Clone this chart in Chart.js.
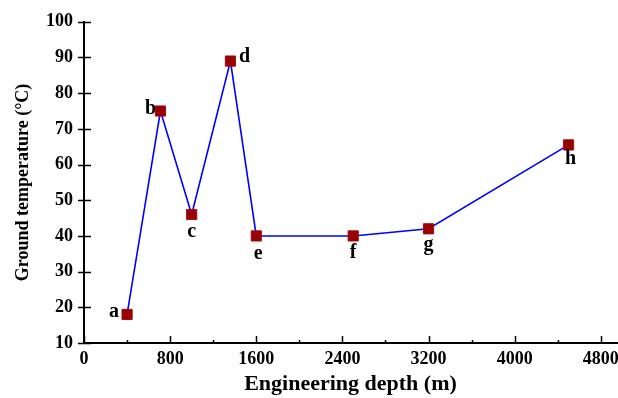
<!DOCTYPE html>
<html>
<head>
<meta charset="utf-8">
<script src="https://cdn.jsdelivr.net/npm/chart.js@4"></script>
<style>
  html, body { margin: 0; padding: 0; background: #fff; }
  #chart { display: block; }
</style>
</head>
<body>
<canvas id="chart" width="618" height="398"></canvas>
<script>
// Ground temperature vs engineering depth
const depths = [400, 710, 1000, 1360, 1600, 2500, 3200, 4500];
const temps = [18, 75, 46, 89, 40, 40, 42, 65.5];
const pointNames = ["a", "b", "c", "d", "e", "f", "g", "h"];
const xMajorTicks = [0, 800, 1600, 2400, 3200, 4000, 4800];
const yTicks = [10, 20, 30, 40, 50, 60, 70, 80, 90, 100];

const SERIF = "'Liberation Serif', 'Times New Roman', serif";

// where each letter sits relative to its marker (px)
const labelOffsets = {
  a: [-13, -3], b: [-10, -2], c: [0, 17], d: [14, -4],
  e: [2, 18], f: [0, 17], g: [0, 16], h: [2, 14]
};

// tick marks: x ticks point inward (major + minor), y ticks cross the axis
const tickMarks = {
  id: "tickMarks",
  afterDraw(chart) {
    const { ctx, scales: { x, y }, chartArea } = chart;
    ctx.save();
    ctx.strokeStyle = "#000";
    ctx.lineWidth = 1.5;
    ctx.beginPath();
    for (let v = 0; v <= 4800; v += 400) {
      const px = Math.round(x.getPixelForValue(v)) + 0.5;
      const len = v % 800 === 0 ? 7 : 3;
      ctx.moveTo(px, chartArea.bottom);
      ctx.lineTo(px, chartArea.bottom - len);
    }
    for (const v of yTicks) {
      const py = Math.round(y.getPixelForValue(v)) + 0.5;
      ctx.moveTo(chartArea.left - 6, py);
      ctx.lineTo(chartArea.left + 7, py);
    }
    ctx.stroke();
    ctx.restore();
  }
};

const pointLabels = {
  id: "pointLabels",
  afterDatasetsDraw(chart) {
    const { ctx } = chart;
    const meta = chart.getDatasetMeta(0);
    ctx.save();
    ctx.font = "bold 20px " + SERIF;
    ctx.fillStyle = "#000";
    ctx.textAlign = "center";
    ctx.textBaseline = "middle";
    meta.data.forEach((pt, i) => {
      const name = pointNames[i];
      const [dx, dy] = labelOffsets[name];
      ctx.fillText(name, pt.x + dx, pt.y + dy);
    });
    ctx.restore();
  }
};

new Chart(document.getElementById("chart"), {
  type: "line",
  data: {
    datasets: [{
      data: depths.map((d, i) => ({ x: d, y: temps[i] })),
      borderColor: "#0000ff",
      borderWidth: 1.6,
      pointStyle: "rect",
      pointRadius: 7.2,
      pointBackgroundColor: "#990000",
      pointBorderColor: "#a01010",
      pointBorderWidth: 1,
      tension: 0
    }]
  },
  options: {
    responsive: false,
    devicePixelRatio: 1,
    animation: false,
    layout: { autoPadding: false, padding: { top: 19, right: 1, left: 0, bottom: 0 } },
    plugins: { legend: { display: false }, tooltip: { enabled: false } },
    scales: {
      x: {
        type: "linear",
        min: 0,
        max: 4950,
        afterBuildTicks: s => { s.ticks = xMajorTicks.map(v => ({ value: v })); },
        ticks: {
          autoSkip: false,
          maxRotation: 0,
          padding: 6,
          color: "#000",
          font: { family: SERIF, size: 18, weight: "bold" },
          callback: v => String(v)
        },
        grid: { drawOnChartArea: false, drawTicks: false },
        border: { display: true, color: "#000", width: 2 },
        title: {
          display: true,
          text: "Engineering depth (m)",
          color: "#000",
          font: { family: SERIF, size: 22, weight: "bold" },
          padding: { top: 2, bottom: 0 }
        },
        afterFit: s => { s.height = 55; s.paddingLeft = 0; s.paddingRight = 0; }
      },
      y: {
        min: 10,
        max: 100,
        afterBuildTicks: s => { s.ticks = yTicks.map(v => ({ value: v })); },
        ticks: {
          padding: 11,
          color: "#000",
          font: { family: SERIF, size: 18, weight: "bold" },
          callback: v => String(v)
        },
        grid: { drawOnChartArea: false, drawTicks: false },
        border: { display: true, color: "#000", width: 2 },
        title: {
          display: true,
          text: "Ground temperature (°C)",
          color: "#000",
          font: { family: SERIF, size: 18, weight: "bold" },
          padding: { top: 13, bottom: 0 }
        },
        afterFit: s => { s.width = 84; }
      }
    }
  },
  plugins: [tickMarks, pointLabels]
});
</script>
</body>
</html>
